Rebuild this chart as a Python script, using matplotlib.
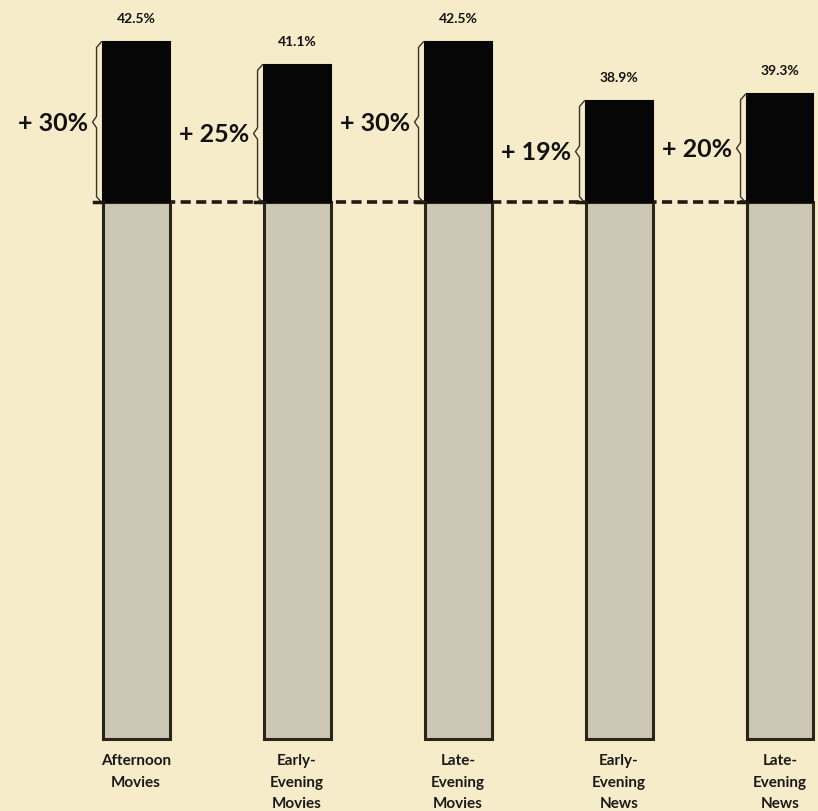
import numpy as np
import matplotlib
matplotlib.use("Agg")
import matplotlib.pyplot as plt

# 데이터
categories = ["Afternoon\nMovies", "Early-\nEvening\nMovies", "Late-\nEvening\nMovies",
              "Early-\nEvening\nNews", "Late-\nEvening\nNews"]
totals = [42.5, 41.1, 42.5, 38.9, 39.3]     # 막대 꼭대기 값
gains = [30, 25, 30, 19, 20]                # 기준선 대비 증가율
base = 32.7                                 # 점선 기준선

bg = "#f6ecc9"
gray = "#cbc7b4"
edge = "#2b2519"

fig = plt.figure(figsize=(8.18, 8.12), dpi=100, facecolor=bg)
ax = fig.add_axes([0, 0, 1, 1], facecolor=bg)
ax.set_xlim(-0.845, 4.236)
ax.set_ylim(-4.39, 45.1)
ax.axis("off")

x = np.arange(len(categories))
w = 0.416
px = 1 / 161.0   # x축 1픽셀 크기 (대략)

# 점선 기준선 (막대 뒤)
ax.plot([x[0] - w / 2, x[-1] + w / 2], [base, base], color="#1e1a12", lw=2.6,
        linestyle=(0, (2.8, 1.5)), zorder=1)

# 회색 아래 부분 + 검정 윗부분
ax.bar(x, base, width=w, color=gray, edgecolor=edge, linewidth=2.2, zorder=2)
ax.bar(x, np.array(totals) - base, bottom=base, width=w, color="#060606",
       edgecolor="#060606", linewidth=1.5, zorder=3)

lab_font = ["Lato", "DejaVu Sans"]

for i in range(len(x)):
    left = x[i] - w / 2
    top = totals[i]
    mid = (top + base) / 2
    # 중괄호 모양
    bx = left - 6 * px
    tip = left - 10 * px
    s = 0.35
    bxs = [left - 1 * px, bx, bx, tip, bx, bx, left - 1 * px]
    bys = [top, top - s, mid + s, mid, mid - s, base + s, base]
    ax.plot(bxs, bys, color="#3a3328", lw=1.0, zorder=4, solid_capstyle="round")
    ax.plot([left - 9 * px, left], [base, base], color="#1e1a12", lw=2.5, zorder=4)
    # 증가율 라벨
    ax.text(left - 14 * px, mid, "+ %d%%" % gains[i], ha="right", va="center",
            fontsize=18, fontweight="bold", family=lab_font, color="#111111")
    # 값 라벨
    ax.text(x[i], top + 1.45, "%.1f%%" % top, ha="center", va="center",
            fontsize=10, fontweight="bold", family=lab_font, color="#111111")
    # 카테고리 라벨
    ax.text(x[i], -0.85, categories[i], ha="center", va="top", fontsize=11,
            fontweight="bold", family=lab_font, color="#1a1a1a", linespacing=1.7)

fig.savefig("out.png", dpi=100, facecolor=bg)
